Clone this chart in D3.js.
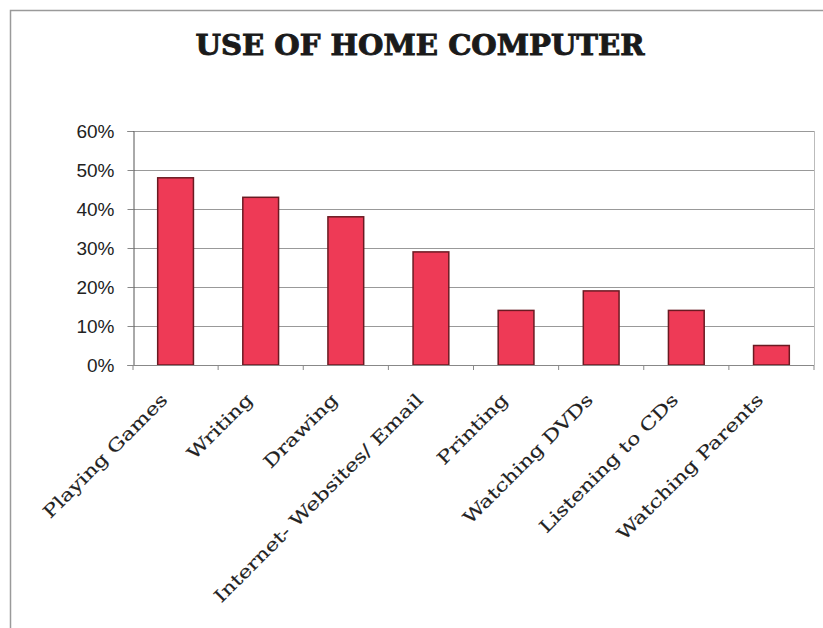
<!DOCTYPE html>
<html><head><meta charset="utf-8">
<script src="https://cdn.jsdelivr.net/npm/d3@7"></script>
<style>body{margin:0;background:#fff}svg{display:block}</style>
</head><body>
<svg id="c" width="823" height="628"></svg>
<script>
const categories = ["Playing Games","Writing","Drawing","Internet- Websites/ Email","Printing","Watching DVDs","Listening to CDs","Watching Parents"];
const values = [0.48,0.43,0.38,0.29,0.14,0.19,0.14,0.05];
const yTicks = [0,0.1,0.2,0.3,0.4,0.5,0.6];
const title = "USE OF HOME COMPUTER";

(function(){
const svg = d3.select("#c");
svg.append("rect").attr("x",10.5).attr("y",10.5).attr("width",830).attr("height",640)
  .attr("fill","#fff").attr("stroke","#9a9a9a").attr("stroke-width",1.5);

const pL=133, pR=814, pT=131, pB=365;
const x = d3.scaleBand().domain(categories).range([pL,pR]).paddingInner(0.58).paddingOuter(0.29);
const y = d3.scaleLinear().domain([0,0.6]).range([pB,pT]);

// gridlines
svg.append("g").selectAll("line").data(yTicks.filter(d=>d>0)).join("line")
  .attr("x1",pL).attr("x2",pR).attr("y1",d=>Math.round(y(d))+0.5).attr("y2",d=>Math.round(y(d))+0.5)
  .attr("stroke","#999").attr("stroke-width",1);
svg.append("line").attr("x1",pR+0.5).attr("x2",pR+0.5).attr("y1",pT).attr("y2",pB).attr("stroke","#bbb");

// bars
svg.append("g").selectAll("rect").data(values).join("rect")
  .attr("x",(d,i)=>x(categories[i])).attr("width",x.bandwidth())
  .attr("y",d=>y(d)).attr("height",d=>pB-y(d))
  .attr("fill","#ee3a56").attr("stroke","#6a1a22").attr("stroke-width",1.5);

// y axis
const yAxis = d3.axisLeft(y).tickValues(yTicks).tickFormat(d3.format(".0%")).tickSize(6).tickPadding(13);
const ga = svg.append("g").attr("transform",`translate(${pL+0.5},0)`).call(yAxis);
ga.select(".domain").attr("stroke","#555");
ga.selectAll(".tick line").attr("stroke","#888");
ga.selectAll("text").attr("font-family","Liberation Sans, Arial, sans-serif").attr("font-size",19).attr("fill","#222");

// x axis
const step = x.step();
const bounds = d3.range(categories.length+1).map(i=>pL+i*step);
svg.append("line").attr("x1",pL).attr("x2",pR).attr("y1",pB+0.5).attr("y2",pB+0.5).attr("stroke","#888");
svg.append("g").selectAll("line").data(bounds).join("line")
  .attr("x1",d=>d).attr("x2",d=>d).attr("y1",pB).attr("y2",pB+5).attr("stroke","#888");

// x labels
svg.append("g").selectAll("text").data(categories).join("text")
  .attr("transform",d=>`translate(${x(d)+x.bandwidth()/2-7},${pB+36}) rotate(-45) scale(1.27,1)`)
  .attr("text-anchor","end").attr("font-family","'DejaVu Serif', 'Liberation Serif', serif").attr("font-size",17.5).attr("fill","#222")
  .attr("stroke","#222").attr("stroke-width",0.15)
  .text(d=>d);

// title
svg.append("text").attr("transform","translate(420,55) scale(1.08,1)").attr("text-anchor","middle")
  .attr("font-family","'DejaVu Serif', 'Liberation Serif', serif").attr("font-weight","bold").attr("font-size",27).attr("fill","#1a1a1a")
  .attr("stroke","#1a1a1a").attr("stroke-width",0.9)
  .text(title);
})();
</script>
</body></html>
